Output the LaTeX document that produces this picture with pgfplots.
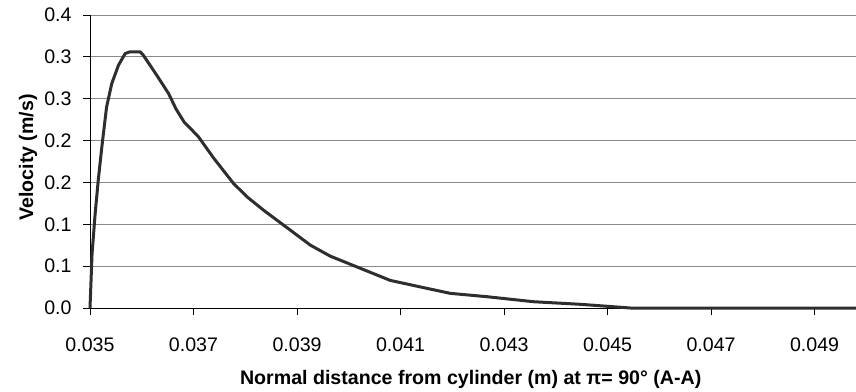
\documentclass[border=0pt]{standalone}
\usepackage{fontspec}
\setmainfont{Liberation Sans}
\usepackage{pgfplots}
\pgfplotsset{compat=1.18}
\definecolor{gridgray}{HTML}{8A8A8A}
\definecolor{curve}{HTML}{2E2E2E}
\begin{document}
\begin{tikzpicture}
\path[use as bounding box] (0,0) rectangle (428pt,195.5pt);
\begin{axis}[
  at={(45pt,41.5pt)}, anchor=south west,
  scale only axis, width=383pt, height=146.5pt,
  xmin=0.035, xmax=0.0498, ymin=0, ymax=0.35,
  axis x line=bottom, axis y line=left,
  axis line style={-, black, line width=0.5pt},
  tick align=outside, major tick length=3.5pt,
  tick style={black, line width=0.5pt},
  scaled x ticks=false, scaled y ticks=false,
  xtick={0.035,0.037,0.039,0.041,0.043,0.045,0.047,0.049},
  xticklabels={0.035,0.037,0.039,0.041,0.043,0.045,0.047,0.049},
  ytick={0,0.05,0.1,0.15,0.2,0.25,0.3,0.35},
  yticklabels={0.0,0.1,0.1,0.2,0.2,0.3,0.3,0.4},
  ymajorgrids, grid style={gridgray, line width=0.5pt},
  /pgf/number format/assume math mode=true,
  ticklabel style={font=\fontsize{9.8}{11.8}\selectfont},
  xticklabel style={anchor=north, inner sep=0pt, yshift=-11pt},
  yticklabel style={anchor=east, inner sep=0pt, xshift=-5.5pt},
  xlabel={Normal distance from cylinder (m) at π= 90° (A-A)},
  ylabel={Velocity (m/s)},
  label style={font=\fontsize{9.8}{11.8}\selectfont\bfseries},
  xlabel style={at={(axis description cs:0.497,-0.2594)}, anchor=base},
  ylabel style={at={(axis description cs:-0.0744,0.514)}, anchor=base, rotate=0},
  clip=false,
]
\addplot[curve, line width=1.5pt, line join=round] coordinates {
(0.03500,0)
(0.03504,0.065)
(0.03510,0.113)
(0.03516,0.153)
(0.03523,0.193)
(0.03532,0.240)
(0.03542,0.268)
(0.03555,0.290)
(0.03568,0.304)
(0.03577,0.306)
(0.03597,0.306)
(0.03603,0.302)
(0.03629,0.278)
(0.03652,0.256)
(0.03666,0.238)
(0.03682,0.222)
(0.03709,0.205)
(0.03739,0.179)
(0.03777,0.149)
(0.03803,0.133)
(0.03835,0.117)
(0.03874,0.099)
(0.03926,0.075)
(0.03964,0.062)
(0.04016,0.049)
(0.04080,0.033)
(0.04132,0.026)
(0.04196,0.0175)
(0.04267,0.0135)
(0.04357,0.0075)
(0.04448,0.0044)
(0.04544,0.0)
(0.04650,0)
(0.04980,0)
};
\end{axis}
\end{tikzpicture}
\end{document}
